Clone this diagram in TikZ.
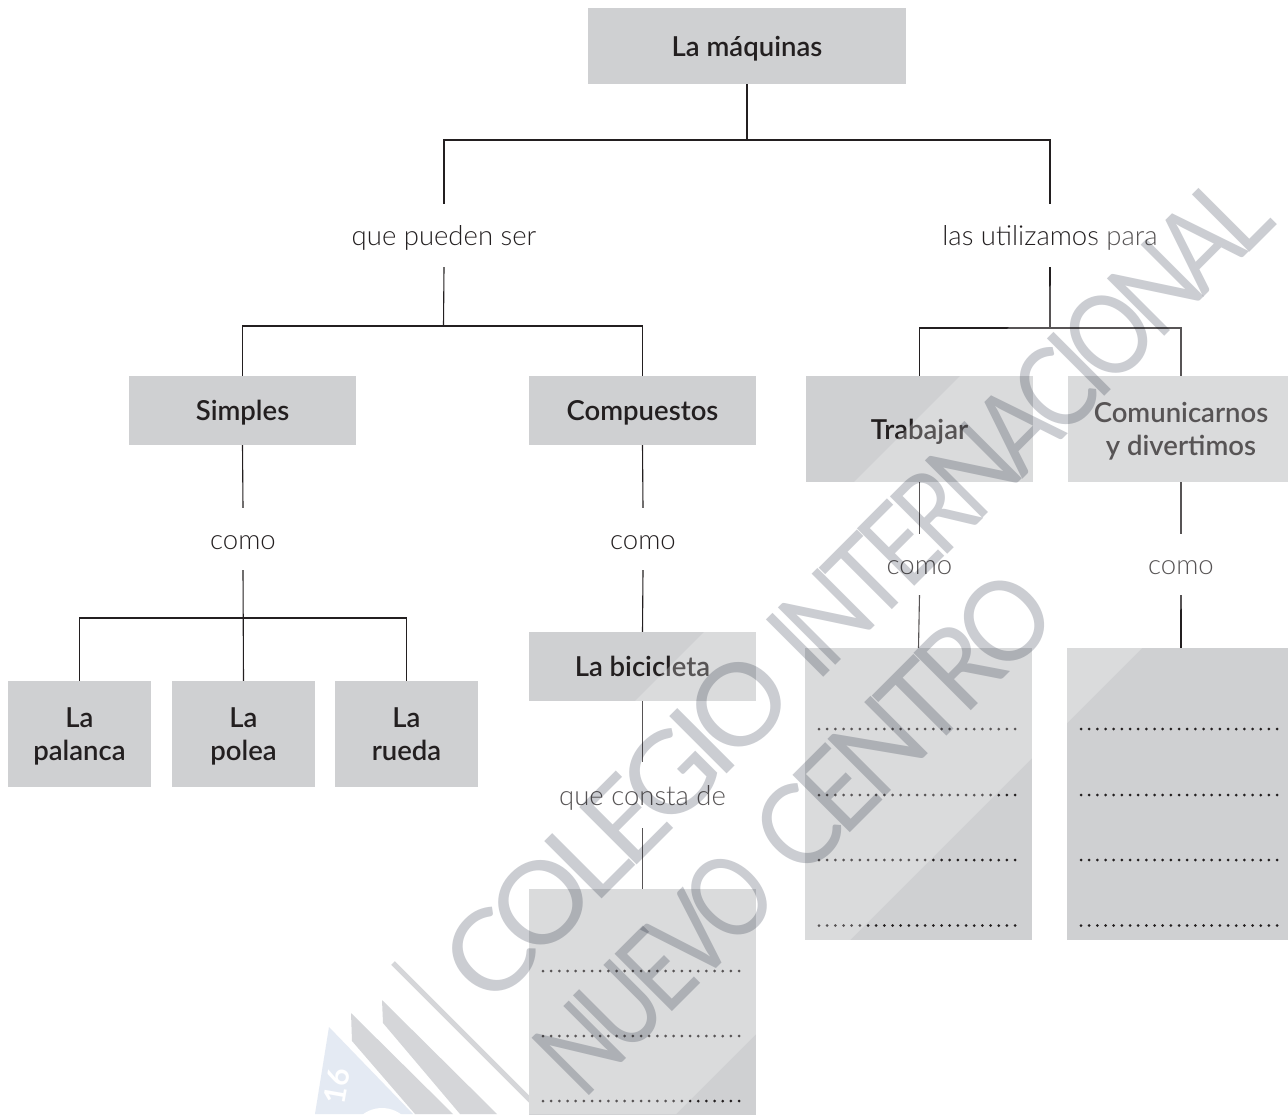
\documentclass[tikz,border=0pt]{standalone}
\usepackage{fontspec}
\usepackage{graphicx}
\setmainfont{Lato}
\newfontfamily\lightfont{Lato Light}
\newfontfamily\semifont{Lato Semibold}
\newfontfamily\wmfont[LetterSpace=-10]{Lato}
\usetikzlibrary{calc}
\definecolor{boxgray}{HTML}{CFD0D2}
\definecolor{inkc}{HTML}{231F20}
\definecolor{wmgray}{HTML}{CBCDD2}
\definecolor{logoblue}{HTML}{DCE4F0}
\definecolor{logogray}{HTML}{C8CACE}
\tikzset{
  x=1pt,y=-1pt,
  box/.style={fill=boxgray,inner sep=0pt},
  boxtext/.style={inner sep=0pt,align=center,text=inkc,font=\fontsize{27.5}{33}\semifont},
  lbl/.style={inner sep=0pt,align=center,text=inkc,font=\fontsize{27.5}{30}\lightfont},
  conn/.style={draw=inkc,line width=1.1pt},
  dotrow/.style={line cap=round,line width=3pt,draw=inkc,dash pattern=on 0pt off 8.17pt},
  wm/.style={inner sep=0pt,text=wmgray,rotate=45}
}
\newcommand{\mybox}[6]{\node[box,minimum width=#3-#2,minimum height=#5-#4] (#1) at ({(#2+#3)/2},{(#4+#5)/2}) {};
  \node[boxtext] (#1t) at ($(#1)+(0,2.5)$) {#6};}
\newcommand{\lowered}[1]{\raisebox{-10pt}[0pt][0pt]{#1}}
\begin{document}
\begin{tikzpicture}
\clip (0,0) rectangle (1288,1114);
\fill[white] (0,0) rectangle (1288,1114);
% logo
\fill[logoblue] (329,1027) -- (413,1114) -- (315,1114) -- cycle;
\fill[white] (382,1140) circle (32);
\fill[logogray] (351,1013) -- (352,1041) -- (415,1114) -- (453,1114) -- cycle;
\fill[logogray] (382,1000) -- (383,1023) -- (460,1114) -- (497,1114) -- cycle;
\draw[logogray,line width=5pt] (393,963) -- (544,1114);
\node[inner sep=0pt,text=white,font=\fontsize{30}{30}\selectfont\bfseries,rotate=80] (yr) at (337,1086) {16};
% boxes
\mybox{root}{588}{906}{8}{84}{La máquinas}
\mybox{simples}{129}{356}{376}{445}{Simples}
\mybox{comp}{529}{756}{376}{445}{Compuestos}
\mybox{trab}{806}{1033}{376}{482}{Trabajar}
\mybox{comu}{1068}{1294}{376}{482}{Comunicarnos\\y divertimos}
\mybox{pal}{8}{151}{681}{787}{La\\palanca}
\mybox{pol}{172}{315}{681}{787}{La\\polea}
\mybox{rue}{335}{478}{681}{787}{La\\rueda\vphantom{p}}
\mybox{bici}{529}{756}{632}{701}{La bicicleta\vphantom{p}}
\mybox{bbot}{529}{756}{889}{1130}{}
\mybox{btr}{805}{1032}{648}{940}{}
\mybox{bco}{1067}{1295}{648}{940}{}
% labels: their height holds the gap left in the connector
\node[lbl,minimum height=63pt] (l1) at (444,235.5) {\lowered{que pueden ser}};
\node[lbl,minimum height=63pt] (l2) at (1050,235.5) {\lowered{las utilizamos para}};
\node[lbl,minimum height=62pt] (l3) at (243,539) {\lowered{como}};
\node[lbl,minimum height=62pt] (l4) at (643,539) {\lowered{como}};
\node[lbl,minimum height=61pt] (l5) at (919.5,564.5) {\lowered{como}};
\node[lbl,minimum height=61pt] (l6) at (1181,564.5) {\lowered{como}};
\node[lbl,minimum height=66pt] (l7) at (642.5,795) {\lowered{que consta de}};
% junctions
\coordinate (j0) at (747,140);
\coordinate (j1) at (443.5,326);
\coordinate (j2) at (1050,328);
\coordinate (j3) at (243,618);
% connectors
\draw[conn] (root.south) -- (j0);
\draw[conn] (l1.north) |- (j0) -| (l2.north);
\draw[conn] (l1.south) -- (j1);
\draw[conn] (simples.north) |- (j1) -| (comp.north);
\draw[conn] (l2.south) -- (j2);
\draw[conn] (trab.north) |- (j2) -| (comu.north);
\draw[conn] (simples.south) -- (l3.north);
\draw[conn] (comp.south) -- (l4.north);
\draw[conn] (trab.south) -- (l5.north);
\draw[conn] (comu.south) -- (l6.north);
\draw[conn] (l3.south) -- (pol.north);
\draw[conn] (pal.north) |- (j3) -| (rue.north);
\draw[conn] (l4.south) -- (bici.north);
\draw[conn] (bici.south) -- (l7.north);
\draw[conn] (l7.south) -- (bbot.north);
\draw[conn] (l5.south) -- (btr.north);
\draw[conn] (l6.south) -- (bco.north);
% dotted writing lines
\foreach \yy in {729,795,860,925.5}{
  \draw[dotrow] (819,\yy) -- (1020,\yy);
  \draw[dotrow] (1081,\yy) -- (1282,\yy);
}
\foreach \yy in {971,1036,1101}{
  \draw[dotrow] (543,\yy) -- (744,\yy);
}
% pale diagonal band
\fill[white,opacity=.24] (1336,0) -- (1790,0) -- (676,1114) -- (222,1114) -- cycle;
% watermark
\begin{scope}[blend mode=multiply]
\node[wm] (w1) at (617,827) {\resizebox{438pt}{82pt}{\wmfont COLEGIO}};
\node[wm] (w2) at (1019,425) {\resizebox{651pt}{82pt}{\wmfont INTERNACIONAL}};
\node[wm] (w3) at (655,972) {\resizebox{284pt}{82pt}{\wmfont NUEVO}};
\node[wm] (w4) at (903,722) {\resizebox{369pt}{82pt}{\wmfont CENTRO}};
\end{scope}
\end{tikzpicture}
\end{document}
